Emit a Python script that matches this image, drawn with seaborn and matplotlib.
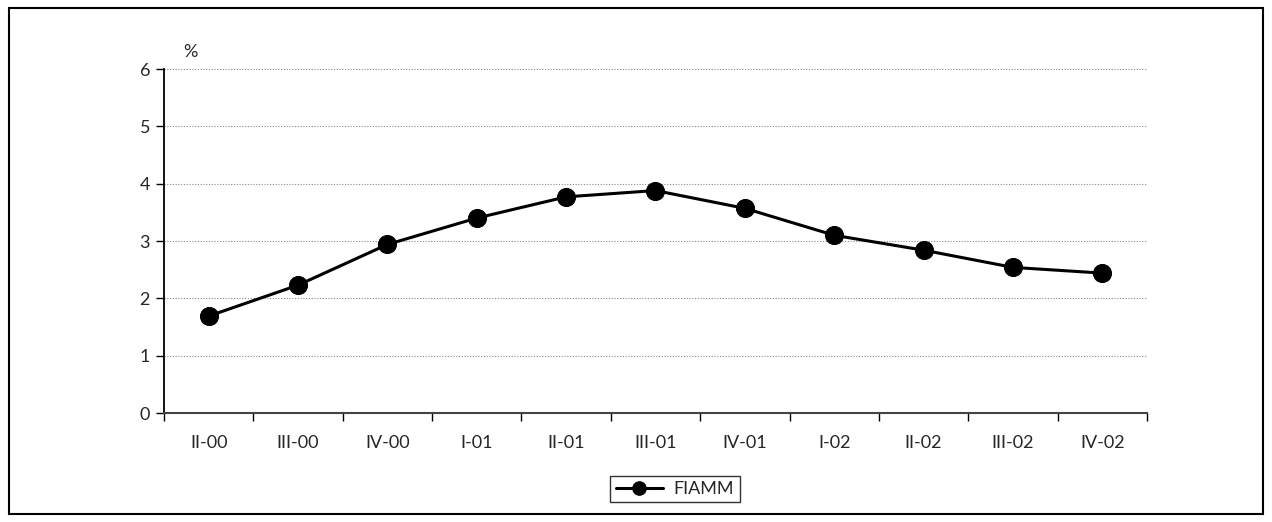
import matplotlib.pyplot as plt
import seaborn as sns
import pandas as pd
from matplotlib.patches import Rectangle

# 数据准备
quarters = ['II-00', 'III-00', 'IV-00', 'I-01', 'II-01', 'III-01',
            'IV-01', 'I-02', 'II-02', 'III-02', 'IV-02']
fiamm = [1.69, 2.23, 2.94, 3.40, 3.77, 3.88, 3.57, 3.10, 2.84, 2.54, 2.44]

sns.set_style('white')
plt.rcParams['font.family'] = ['Lato', 'DejaVu Sans']

df = pd.DataFrame({'quarter': quarters, 'value': fiamm, 'pos': range(len(quarters))})

fig = plt.figure(figsize=(12.72, 5.22), dpi=100)
ax = fig.add_axes([0.1289, 0.2088, 0.7728, 0.659])

sns.lineplot(data=df, x='pos', y='value', ax=ax, color='black', linewidth=2.2,
             marker='o', markersize=13, markeredgecolor='black', label='FIAMM')

ax.set_xlim(-0.5, len(quarters) - 0.5)
ax.set_ylim(0, 6)
ax.set_yticks(range(0, 7))
ax.set_xticks(range(len(quarters)))
ax.set_xticklabels(quarters)
ax.set_xticks([i - 0.5 for i in range(len(quarters) + 1)], minor=True)
ax.tick_params(axis='x', which='major', bottom=False, length=0, pad=16, labelsize=13)
ax.tick_params(axis='x', which='minor', bottom=True, length=6, width=1,
               color='black', direction='out')
ax.tick_params(axis='y', left=True, length=6, width=1, color='black',
               direction='out', labelsize=13, pad=4)
ax.set_xlabel('')
ax.set_ylabel('')
ax.grid(axis='y', linestyle=(0, (1, 1.5)), color='#888888', linewidth=0.8)
ax.set_axisbelow(True)

for s in ['top', 'right']:
    ax.spines[s].set_visible(False)
ax.spines['left'].set_color('black')
ax.spines['left'].set_linewidth(1.3)
ax.spines['bottom'].set_color('#444444')
ax.spines['bottom'].set_linewidth(1.5)

ax.text(0.02, 1.025, '%', transform=ax.transAxes, fontsize=13, ha='left', va='bottom')

leg = ax.legend(loc='center', bbox_to_anchor=(675 / 1272, 1 - 489 / 522),
                bbox_transform=fig.transFigure, fontsize=13, frameon=True,
                fancybox=False, handlelength=2.6, borderpad=0.3, handletextpad=0.6,
                markerscale=0.75)
leg.get_frame().set_edgecolor('black')
leg.get_frame().set_linewidth(1.0)

# 外框
fig.patches.append(Rectangle((9 / 1272, 8 / 522), 1254 / 1272, 506 / 522,
                             transform=fig.transFigure, fill=False,
                             edgecolor='black', linewidth=1.5))

fig.savefig('out.png', dpi=100)
